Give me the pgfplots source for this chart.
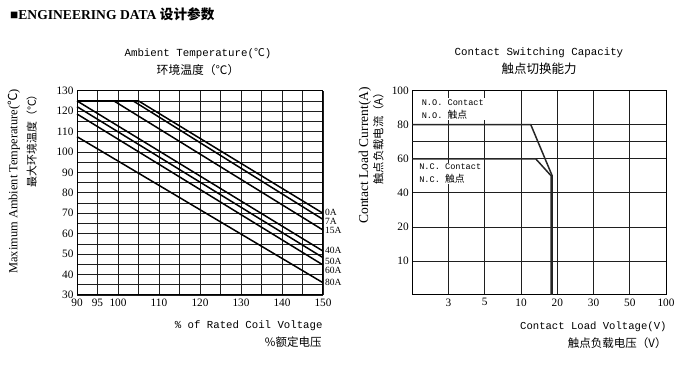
\documentclass[border=0pt]{standalone}
\usepackage{fontspec}
\setmainfont{Liberation Serif}
\newfontfamily\cjk{Noto Sans CJK SC}
\newfontfamily\mono{Liberation Mono}
\usepackage{pgfplots}
\pgfplotsset{compat=1.18}
\begin{document}
\begin{tikzpicture}[x=1pt,y=1pt]
\path[use as bounding box] (0pt,0pt) rectangle (681pt,369pt);
% header
\node[anchor=west, inner sep=0] at (10pt,355pt) {\fontsize{13.6}{16}\selectfont\bfseries ■ENGINEERING DATA {\cjk\bfseries 设计参数}};
% left titles
\node[inner sep=0] at (198pt,315pt) {\mono\fontsize{10.8}{13}\selectfont Ambient Temperature({\cjk ℃})};
\node[inner sep=0] at (198pt,298.5pt) {\cjk\fontsize{11.8}{14}\selectfont 环境温度（℃）};
\node[anchor=east, inner sep=0] at (322.7pt,43pt) {\mono\fontsize{10.7}{13}\selectfont \% of Rated Coil Voltage};
\node[anchor=east, inner sep=0] at (321.7pt,27.3pt) {\cjk\fontsize{11.5}{14}\selectfont \%额定电压};
\node[rotate=90, anchor=east, inner sep=0] at (14pt,280pt) {\fontsize{12.4}{14}\selectfont Maximum Ambient Temperature({\cjk ℃})};
\node[rotate=90, anchor=east, inner sep=0] at (31.7pt,280pt) {\cjk\fontsize{10.9}{13}\selectfont 最大环境温度（℃）};
% right titles
\node[inner sep=0] at (539pt,316.3pt) {\mono\fontsize{10.8}{13}\selectfont Contact Switching Capacity};
\node[inner sep=0] at (539pt,300.7pt) {\cjk\fontsize{12.5}{14}\selectfont 触点切换能力};
\node[anchor=east, inner sep=0] at (666.7pt,42.3pt) {\mono\fontsize{10.6}{13}\selectfont Contact Load Voltage(V)};
\node[anchor=east, inner sep=0] at (666.7pt,26.3pt) {\cjk\fontsize{11.5}{14}\selectfont 触点负载电压（V）};
\node[rotate=90, anchor=east, inner sep=0] at (365pt,282pt) {\fontsize{13.5}{15}\selectfont Contact Load Current(A)};
\node[rotate=90, anchor=east, inner sep=0] at (378.3pt,282pt) {\cjk\fontsize{11.3}{13}\selectfont 触点负载电流（A）};

\begin{axis}[
  at={(77pt,74pt)}, anchor=south west, scale only axis,
  width=246pt, height=204.3pt,
  xmin=90, xmax=150, ymin=30, ymax=130,
  xtick={90,95,100,105,110,115,120,125,130,135,140,145,150},
  xticklabels={90,95,100,,110,,120,,130,,140,,150},
  ytick={30,35,40,45,50,55,60,65,70,75,80,85,90,95,100,105,110,115,120,125,130},
  yticklabels={30,,40,,50,,60,,70,,80,,90,,100,,110,,120,,130},
  grid=major, major grid style={black!88, line width=0.7pt},
  major tick length=0pt,
  axis line style={line width=1pt},
  tick label style={font=\fontsize{11.3}{13}\selectfont},
  /pgf/number format/assume math mode=true,
  clip=false,
]
\addplot[black, line width=1.5pt] coordinates {(90,125) (105,125) (150,70)};
\addplot[black, line width=1.5pt] coordinates {(90,125) (103.7,125) (150,67)};
\addplot[black, line width=1.5pt] coordinates {(90,125) (99,125) (150,61.8)};
\addplot[black, line width=1.5pt] coordinates {(90,125) (150,51.5)};
\addplot[black, line width=1.5pt] coordinates {(90,122.2) (150,48.3)};
\addplot[black, line width=1.5pt] coordinates {(90,118.6) (150,44.7)};
\addplot[black, line width=1.5pt] coordinates {(90,107.5) (150,36)};
\begin{scope}[every node/.style={anchor=west, inner sep=0, xshift=2pt, font=\fontsize{9.5}{10}\selectfont}]
\node at (axis cs:150,70.3) {0A};
\node at (axis cs:150,65.9) {7A};
\node at (axis cs:150,61.8) {15A};
\node at (axis cs:150,51.7) {40A};
\node at (axis cs:150,46.6) {50A};
\node at (axis cs:150,42.1) {60A};
\node at (axis cs:150,36.0) {80A};
\end{scope}
\end{axis}

\begin{axis}[
  at={(412.3pt,74pt)}, anchor=south west, scale only axis,
  width=253.7pt, height=204.3pt,
  xmin=0, xmax=7, ymin=0, ymax=6,
  xtick={1,2,3,4,5,6,7}, xticklabels={3,5,10,20,30,50,100},
  ytick={1,2,3,4,5,6}, yticklabels={10,20,40,60,80,100},
  extra y ticks={4.5}, extra y tick labels={}, extra tick style={grid=major},
  grid=major, major grid style={black!88, line width=0.7pt},
  major tick length=0pt,
  axis line style={line width=1pt},
  tick label style={font=\fontsize{11.3}{13}\selectfont},
  /pgf/number format/assume math mode=true,
  clip=false,
]
\addplot[black!85, line width=1.5pt] coordinates {(0,5) (3.27,5) (3.86,3.5) (3.86,0)};
\addplot[black!85, line width=1.5pt] coordinates {(0,4) (3.405,4) (3.83,3.5) (3.83,0)};
\node[fill=white, anchor=west, inner sep=1pt, align=left, font=\mono\fontsize{8.6}{13}\selectfont] at (axis cs:0.23,5.46) {N.O. Contact\\N.O. {\cjk\fontsize{9.8}{13}\selectfont 触点}};
\node[fill=white, anchor=west, inner sep=1pt, align=left, font=\mono\fontsize{8.6}{12.3}\selectfont] at (axis cs:0.16,3.57) {N.C. Contact\\N.C. {\cjk\fontsize{9.8}{12.3}\selectfont 触点}};
\end{axis}
\end{tikzpicture}
\end{document}
